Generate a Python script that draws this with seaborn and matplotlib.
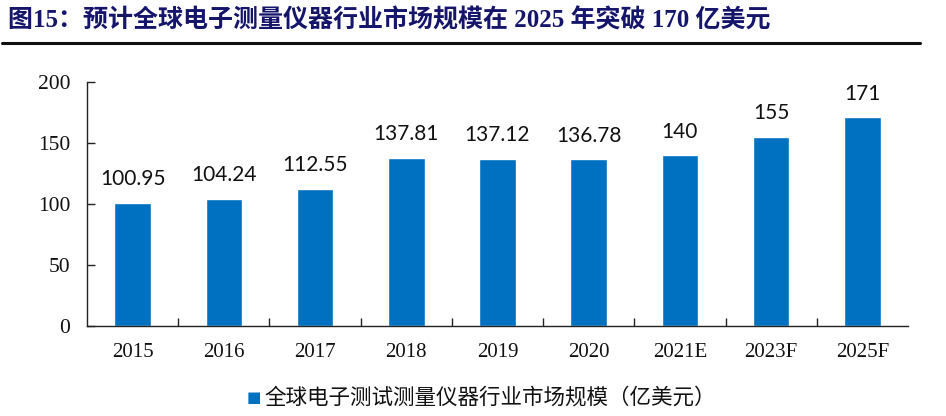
import pandas as pd
import matplotlib.pyplot as plt
import seaborn as sns
from matplotlib.lines import Line2D

# 数据
years = ['2015', '2016', '2017', '2018', '2019', '2020', '2021E', '2023F', '2025F']
values = [100.95, 104.24, 112.55, 137.81, 137.12, 136.78, 140, 155, 171]
value_labels = ['100.95', '104.24', '112.55', '137.81', '137.12', '136.78', '140', '155', '171']
y_ticks = [0, 50, 100, 150, 200]

title = '图15：预计全球电子测量仪器行业市场规模在 2025 年突破 170 亿美元'
series_name = '全球电子测试测量仪器行业市场规模（亿美元）'

df = pd.DataFrame({'year': years, 'value': values})

sns.set_theme(style="white")
plt.rcParams['font.family'] = ['Liberation Serif', 'Noto Sans CJK SC', 'DejaVu Sans']

BLUE = '#0070C0'

fig = plt.figure(figsize=(9.46, 4.16), dpi=100)
ax = fig.add_axes([87 / 946, 1 - 326 / 416, (908 - 87) / 946, (326 - 82) / 416])

sns.barplot(data=df, x='year', y='value', color=BLUE, width=0.4, saturation=1, ax=ax)

ax.set_xlim(-0.5, len(years) - 0.5)
ax.set_ylim(0, 200)
ax.set_yticks(y_ticks)
ax.set_xlabel('')
ax.set_ylabel('')

# 数据标签
for i, (v, lab) in enumerate(zip(values, value_labels)):
    ax.text(i, v + 11, lab, ha='center', va='bottom', fontsize=15,
            family=['Lato', 'DejaVu Sans'], color='#111111')

# 坐标轴样式
for side in ['top', 'right']:
    ax.spines[side].set_visible(False)
for side in ['left', 'bottom']:
    ax.spines[side].set_color('#222222')
    ax.spines[side].set_linewidth(1.0)

ax.tick_params(axis='y', direction='in', length=6, width=1, color='#222222',
               labelsize=15.5, pad=12, left=True)
ax.tick_params(axis='x', length=0, labelsize=15, pad=12)
# x 轴刻度线位于类别之间
ax.set_xticks([i + 0.5 for i in range(len(years) - 1)], minor=True)
ax.tick_params(axis='x', which='minor', direction='in', length=6, width=1,
               color='#222222', bottom=True)
for lab in ax.get_xticklabels() + ax.get_yticklabels():
    lab.set_color('#111111')

# 标题与分隔线
fig.text(8 / 946, 1 - 20 / 416, title, ha='left', va='center', fontsize=18,
         fontweight='bold', color='#15156B',
         family=['Liberation Serif', 'Noto Sans CJK SC'])
fig.add_artist(Line2D([2 / 946, 920 / 946], [1 - 43 / 416, 1 - 43 / 416],
                      color='#111111', linewidth=2.2))

# 图例
fig.text(247 / 946, 1 - 398 / 416, '■', ha='left', va='center', fontsize=11,
         color=BLUE, family=['DejaVu Sans'])
fig.text(264 / 946, 1 - 398 / 416, series_name, ha='left', va='center',
         fontsize=15.5, color='#111111', family=['Noto Sans CJK SC'])

fig.savefig('out.png', dpi=100)
plt.close(fig)
